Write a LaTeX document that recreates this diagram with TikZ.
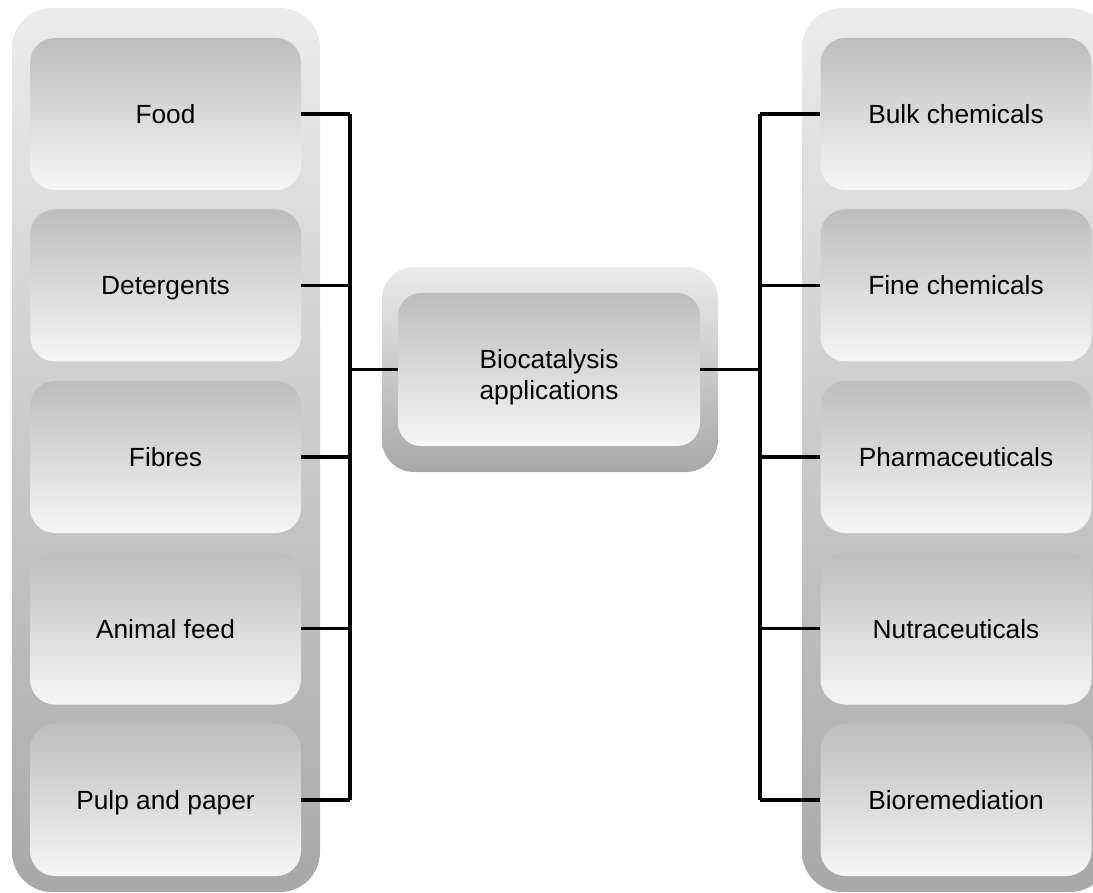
\documentclass[tikz,border=0pt]{standalone}
\usepackage{fontspec}
\setmainfont{Liberation Sans}
\begin{document}
\begin{tikzpicture}[x=1pt,y=-1pt,
  outerbox/.style={rectangle, rounded corners=40pt, draw=none, inner sep=0pt,
    top color=gray!15!white, bottom color={rgb,255:red,168;green,168;blue,168}},
  midouter/.style={rectangle, rounded corners=32pt, draw=none, inner sep=0pt,
    top color={rgb,255:red,235;green,235;blue,235}, bottom color={rgb,255:red,168;green,168;blue,168}},
  itemshape/.style={rectangle, rounded corners=25pt, draw=none, inner sep=0pt,
    minimum width=271pt, minimum height=152pt,
    top color={rgb,255:red,189;green,189;blue,189}, bottom color={rgb,255:red,246;green,246;blue,246}},
  itembox/.style={itemshape, font=\fontsize{26.3}{31.4}\selectfont, text=black,
    text height=19pt, text depth=0pt},
  conn/.style={line width=3.4pt, black}
]
\useasboundingbox (0,0) rectangle (1093,893);
\clip (0,0) rectangle (1093,893);

% outer containers
\node[outerbox, minimum width=308pt, minimum height=884pt] (lframe) at (166,450) {};
\node[outerbox, minimum width=308pt, minimum height=884pt] (rframe) at (956,450) {};
\node[midouter, minimum width=336pt, minimum height=205pt] (cframe) at (550,369.5) {};

% left items
\node[itembox] (food) at (165.5,114) {Food};
\node[itembox] (det)  at (165.5,285.5) {Detergents};
\node[itembox] (fib)  at (165.5,457) {Fibres};
\node[itembox] (feed) at (165.5,628.5) {Animal feed};
\node[itembox] (pulp) at (165.5,800) {Pulp and paper};

% right items
\node[itembox] (bulk)  at (956,114) {Bulk chemicals};
\node[itembox] (fine)  at (956,285.5) {Fine chemicals};
\node[itembox] (pharm) at (956,457) {Pharmaceuticals};
\node[itembox] (nutra) at (956,628.5) {Nutraceuticals};
\node[itembox] (biorem) at (956,800) {Bioremediation};

% centre
\node[itemshape, minimum width=302pt, minimum height=153pt, rounded corners=23pt] (bio) at (549,369.5) {};
\node[font=\fontsize{26.3}{31.4}\selectfont, align=center, inner sep=0pt] (biotext) at (549,377) {Biocatalysis\\applications};

% buses
\coordinate (lbus) at (350,0);
\coordinate (rbus) at (760,0);

\foreach \n in {food,det,fib,feed,pulp}
  \draw[conn] (\n.east) -- (\n.east -| lbus);
\draw[conn] (food.east -| lbus) -- (pulp.east -| lbus);
\draw[conn] (bio.west) -- (bio.west -| lbus);

\foreach \n in {bulk,fine,pharm,nutra,biorem}
  \draw[conn] (\n.west) -- (\n.west -| rbus);
\draw[conn] (bulk.west -| rbus) -- (biorem.west -| rbus);
\draw[conn] (bio.east) -- (bio.east -| rbus);
\end{tikzpicture}
\end{document}
